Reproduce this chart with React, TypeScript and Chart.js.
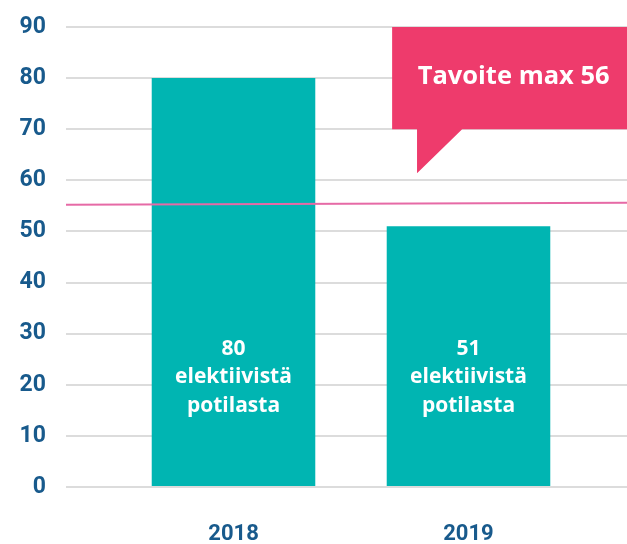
import React, { useEffect, useRef } from "react";
import { Chart, registerables } from "chart.js";

Chart.register(...registerables);

const categories = ["2018", "2019"];
const patientValues = [80, 51];
const labelLines = ["elektiivistä", "potilasta"];
const targetLine = [55.2, 55.6];
const yTicks = { min: 0, max: 90, step: 10 };
const calloutText = "Tavoite max 56";

const X_MIN = 0.2872;
const X_MAX = 2.6745;

const TEAL = "#00b5b2";
const PINK = "#ee3b6c";
const LINE_PINK = "#e66aa6";
const BLUE = "#185a8c";
const LABEL_FONT = "'Century Gothic', 'URW Gothic', 'Open Sans', sans-serif";

const overlayPlugin = {
  id: "overlay",
  afterDatasetsDraw(chart: any) {
    const { ctx, chartArea } = chart;
    const xs = chart.scales.x;
    const ys = chart.scales.y;
    ctx.save();
    // bar labels
    ctx.fillStyle = "#ffffff";
    ctx.textAlign = "center";
    ctx.textBaseline = "middle";
    ctx.font = `bold 21px ${LABEL_FONT}`;
    const midY = ys.getPixelForValue(21.5);
    patientValues.forEach((v, i) => {
      const cx = xs.getPixelForValue(i + 1);
      const lines = [String(v), ...labelLines];
      lines.forEach((t, j) => {
        ctx.fillText(t, cx, midY + (j - 1) * 28.5);
      });
    });
    // callout
    const left = xs.getPixelForValue(1.675);
    const right = chartArea.right;
    const top = ys.getPixelForValue(90);
    const bottom = ys.getPixelForValue(70);
    const tailL = xs.getPixelForValue(1.781);
    const tailR = xs.getPixelForValue(1.973);
    const tailY = ys.getPixelForValue(61.4);
    ctx.fillStyle = PINK;
    ctx.beginPath();
    ctx.moveTo(left, top);
    ctx.lineTo(right, top);
    ctx.lineTo(right, bottom);
    ctx.lineTo(tailR, bottom);
    ctx.lineTo(tailL, tailY);
    ctx.lineTo(tailL, bottom);
    ctx.lineTo(left, bottom);
    ctx.closePath();
    ctx.fill();
    ctx.fillStyle = "#ffffff";
    ctx.font = `bold 25.5px ${LABEL_FONT}`;
    ctx.fillText(calloutText, xs.getPixelForValue(2.192), ys.getPixelForValue(80.2));
    ctx.restore();
  },
};

export default function App() {
  const ref = useRef<HTMLCanvasElement | null>(null);
  useEffect(() => {
    if (!ref.current) return;
    const chart = new Chart(ref.current, {
      type: "bar",
      data: {
        datasets: [
          {
            type: "line",
            data: [
              { x: X_MIN, y: targetLine[0] },
              { x: X_MAX, y: targetLine[1] },
            ],
            borderColor: LINE_PINK,
            borderWidth: 2,
            pointRadius: 0,
            order: 0,
          } as any,
          {
            type: "bar",
            data: patientValues.map((v, i) => ({ x: i + 1, y: v })),
            backgroundColor: TEAL,
            categoryPercentage: 1,
            barPercentage: 0.696,
            order: 1,
          },
        ],
      },
      options: {
        animation: false,
        responsive: false,
        layout: { padding: { top: 27, right: 0, left: 0, bottom: 0 } },
        plugins: { legend: { display: false }, tooltip: { enabled: false } },
        scales: {
          x: {
            type: "linear",
            min: X_MIN,
            max: X_MAX,
            offset: false,
            grid: { display: false, offset: false },
            border: { display: false },
            afterBuildTicks: (scale: any) => {
              scale.ticks = categories.map((_, i) => ({ value: i + 1 }));
            },
            afterFit: (scale: any) => {
              scale.height = 57;
            },
            ticks: {
              padding: 26,
              autoSkip: false,
              maxRotation: 0,
              color: BLUE,
              font: { family: "Roboto", size: 22, weight: "bold" },
              callback: (v: any) => categories[Math.round(Number(v)) - 1] ?? "",
            },
          },
          y: {
            min: yTicks.min,
            max: yTicks.max,
            grid: { color: "#dcdcdc", lineWidth: 2, drawTicks: false },
            border: { display: false },
            afterFit: (scale: any) => {
              scale.width = 66;
              scale.paddingTop = 0;
              scale.paddingBottom = 0;
            },
            ticks: {
              stepSize: yTicks.step,
              padding: 20,
              color: BLUE,
              font: { family: "Roboto", size: 23, weight: "bold" },
            },
          },
        },
      },
      plugins: [overlayPlugin],
    });
    return () => chart.destroy();
  }, []);
  return (
    <div style={{ position: "fixed", left: 0, top: 0, width: 627, height: 544, background: "#fff" }}>
      <canvas ref={ref} width={627} height={544} style={{ display: "block" }} />
    </div>
  );
}
